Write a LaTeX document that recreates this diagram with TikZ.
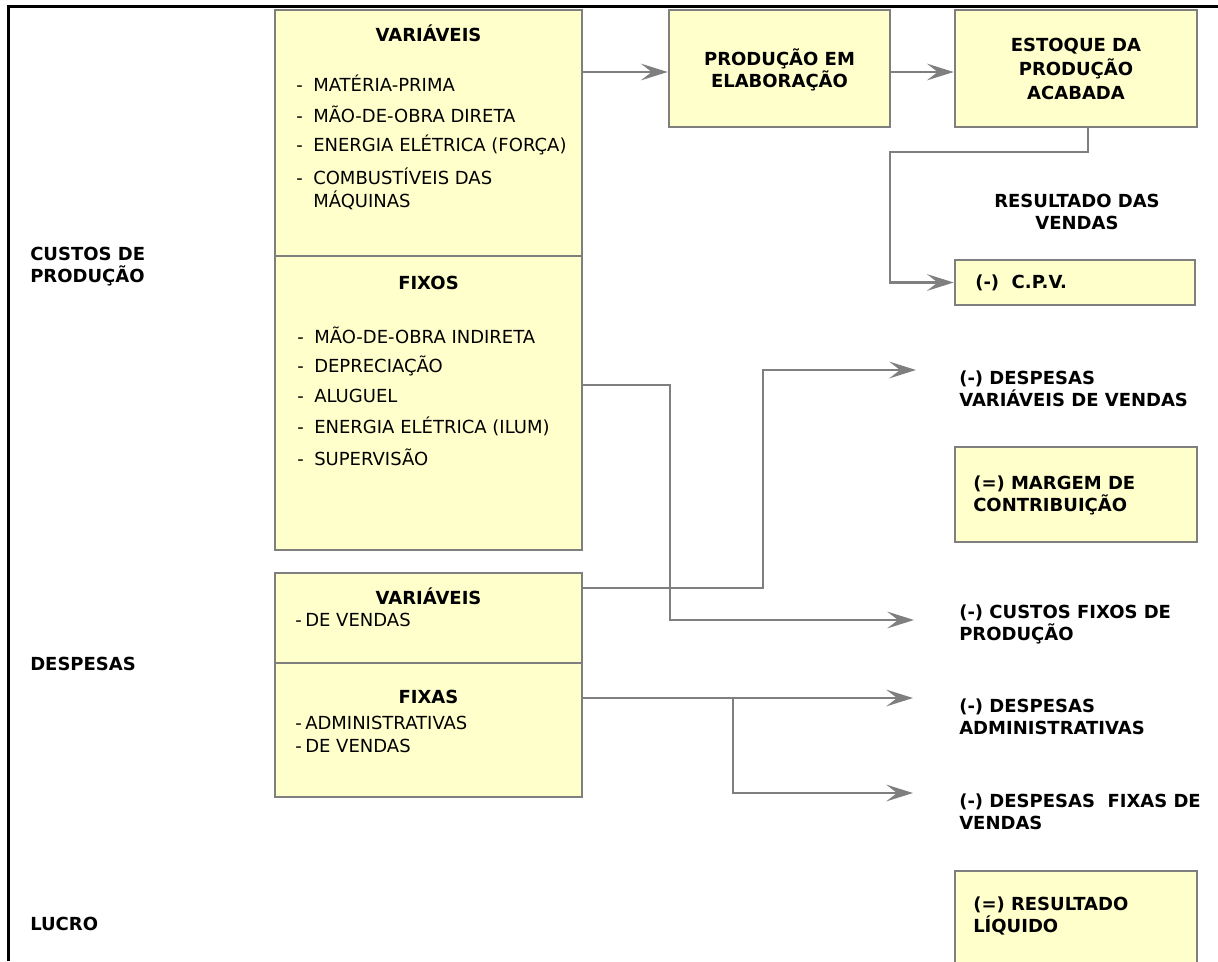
\documentclass[tikz,border=0pt]{standalone}
\usepackage{fontspec}
\setmainfont{DejaVu Sans}
\usetikzlibrary{arrows.meta}

\definecolor{boxyellow}{HTML}{FFFFCC}
\definecolor{wiregray}{HTML}{7F7F7F}

\tikzset{
  box/.style={draw=wiregray, fill=boxyellow, line width=2pt, inner sep=0pt},
  hd/.style={font=\fontsize{13.5}{16.5}\selectfont\bfseries, align=center, inner sep=0pt},
  lbl/.style={font=\fontsize{13.5}{16.5}\selectfont\bfseries, align=left, anchor=west, inner sep=0pt},
  itm/.style={font=\fontsize{13.5}{16}\selectfont, anchor=west, inner sep=0pt},
  wire/.style={draw=wiregray, line width=2pt},
  arr/.style={wire, -{Stealth[length=20pt,width=12.5pt,inset=8pt]}},
}

\begin{document}
\begin{tikzpicture}[x=0.75pt,y=-0.75pt]
  \useasboundingbox (0,0) rectangle (1218,961);

  % frame
  \draw[line width=2.25pt] (8,961) -- (8,6) -- (1218,6);

  % boxes
  \node[box, minimum width=230.25pt, minimum height=184.5pt] (cvar) at (428.5,133) {};
  \node[box, minimum width=230.25pt, minimum height=220.5pt] (cfix) at (428.5,403) {};
  \node[box, minimum width=165.75pt, minimum height=87.75pt] (prod) at (779.5,68.5) {};
  \node[box, minimum width=181.5pt, minimum height=87.75pt] (estq) at (1076,68.5) {};
  \node[box, minimum width=180pt, minimum height=33.75pt] (cpv) at (1075,282.5) {};
  \node[box, minimum width=181.5pt, minimum height=71.25pt] (marg) at (1076,494.5) {};
  \node[box, minimum width=230.25pt, minimum height=67.5pt] (dvar) at (428.5,618) {};
  \node[box, minimum width=230.25pt, minimum height=100.5pt] (dfix) at (428.5,730) {};
  \node[box, minimum width=181.5pt, minimum height=97.5pt] (res) at (1076,936) {};

  % left column
  \node[lbl] (lcusto) at (30,267) {CUSTOS DE\\PRODUÇÃO};
  \node[lbl] (ldesp) at (30,664) {DESPESAS};
  \node[lbl] (llucro) at (30,924) {LUCRO};

  % custos variaveis / fixos
  \node[hd] (tvar) at (428.5,33) {VARIÁVEIS};
  \foreach \nm [count=\i] in {MATÉRIA-PRIMA, MÃO-DE-OBRA DIRETA, ENERGIA ELÉTRICA (FORÇA), COMBUSTÍVEIS DAS}
    \node[itm] (iv\i) at (296,52+31*\i) {\makebox[12.75pt][l]{-}\nm};
  \node[itm] (iv5) at (296,200) {\hspace*{12.75pt}MÁQUINAS};

  \node[hd] (tfix) at (428.5,283) {FIXOS};
  \foreach \nm [count=\i] in {MÃO-DE-OBRA INDIRETA, DEPRECIAÇÃO, ALUGUEL, ENERGIA ELÉTRICA (ILUM), SUPERVISÃO}
    \node[itm] (if\i) at (297,304.5+30.5*\i) {\makebox[12.75pt][l]{-}\nm};

  % despesas
  \node[hd] (tdv) at (428.5,596) {VARIÁVEIS};
  \node[itm] (idv) at (295,620) {\makebox[7.5pt][l]{-}DE VENDAS};
  \node[hd] (tdf) at (428.5,697) {FIXAS};
  \node[itm] (idf1) at (295,723) {\makebox[7.5pt][l]{-}ADMINISTRATIVAS};
  \node[itm] (idf2) at (295,746) {\makebox[7.5pt][l]{-}DE VENDAS};

  % right side
  \node[hd] (tprod) at (779.5,70) {PRODUÇÃO EM\\ELABORAÇÃO};
  \node[hd] (testq) at (1076,69) {ESTOQUE DA\\[1.5pt]PRODUÇÃO\\[1.5pt]ACABADA};
  \node[hd] (lres) at (1077,212) {RESULTADO DAS\\VENDAS};
  \node[lbl] (tcpv) at (975,283) {(-)\ \ C.P.V.};
  \node[lbl] (tmarg) at (973,495) {(=) MARGEM DE\\CONTRIBUIÇÃO};
  \node[lbl] (tres) at (973,916) {(=) RESULTADO\\LÍQUIDO};
  \node[lbl] (ldvv) at (959,389) {(-) DESPESAS\\VARIÁVEIS DE VENDAS};
  \node[lbl] (lcfp) at (959,624) {(-) CUSTOS FIXOS DE\\PRODUÇÃO};
  \node[lbl] (ldadm) at (959,717) {(-) DESPESAS\\ADMINISTRATIVAS};
  \node[lbl] (ldfv) at (959,812) {(-) DESPESAS\ \ FIXAS DE\\VENDAS};

  % bends and free ends
  \coordinate (k0) at (582,72);
  \coordinate (k1) at (1088,152);
  \coordinate (k2) at (890,152);
  \coordinate (k3) at (670,385);
  \coordinate (e4) at (914,620);
  \coordinate (k5) at (763,588);
  \coordinate (e5) at (916,370);
  \coordinate (k6) at (733,698);
  \coordinate (e6) at (913,698);
  \coordinate (e7) at (913,793);

  % connectors
  \draw[arr] (cvar.east |- k0) -- (prod.west |- k0);
  \draw[arr] (prod.east |- k0) -- (estq.west |- k0);
  \draw[arr] (estq.south -| k1) -- (k1) -- (k2) |- (cpv.west);
  \draw[arr] (cfix.east |- k3) -- (k3) |- (e4);
  \draw[arr] (dvar.east |- k5) -- (k5) |- (e5);
  \draw[arr] (dfix.east |- k6) -- (e6);
  \draw[arr] (k6) |- (e7);
\end{tikzpicture}
\end{document}
